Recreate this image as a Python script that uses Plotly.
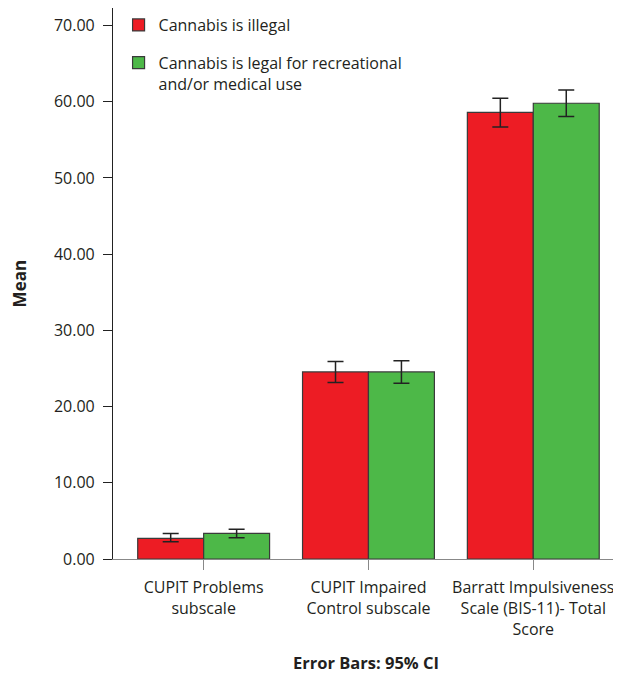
import plotly.graph_objects as go

categories = ["CUPIT Problems<br>subscale",
              "CUPIT Impaired<br>Control subscale",
              "Barratt Impulsiveness<br>Scale (BIS-11)- Total<br>Score"]
series_names = ["Cannabis is illegal",
                "Cannabis is legal for recreational<br>and/or medical use"]
illegal_mean = [2.7, 24.55, 58.6]
illegal_ci_plus = [0.65, 1.35, 1.85]
illegal_ci_minus = [0.45, 1.4, 1.9]
legal_mean = [3.35, 24.55, 59.8]
legal_ci_plus = [0.55, 1.45, 1.75]
legal_ci_minus = [0.55, 1.5, 1.75]
y_ticks = [0, 10, 20, 30, 40, 50, 60, 70]

font_family = "Open Sans, Noto Sans, Arial"
text_color = "#231F20"

fig = go.Figure()
fig.add_trace(go.Bar(
    x=categories, y=illegal_mean, name=series_names[0], legendgroup="illegal",
    marker=dict(color="#ED1C24", line=dict(color="#3a3a3a", width=1.2)),
    error_y=dict(type="data", symmetric=False, array=illegal_ci_plus,
                 arrayminus=illegal_ci_minus, color="#222222", thickness=1.5, width=8),
))
fig.add_trace(go.Bar(
    x=categories, y=legal_mean, name=series_names[1], legendgroup="legal",
    marker=dict(color="#4DB848", line=dict(color="#3a3a3a", width=1.2)),
    error_y=dict(type="data", symmetric=False, array=legal_ci_plus,
                 arrayminus=legal_ci_minus, color="#222222", thickness=1.5, width=8),
))

# page body has an 8px default margin, so the figure is sized to fit the window
fig.update_layout(
    width=613, height=666,
    margin=dict(l=105, r=2, t=0, b=115),
    plot_bgcolor="white", paper_bgcolor="white",
    font=dict(family=font_family, size=16, color=text_color),
    barmode="group", bargap=0.2, bargroupgap=0,
    showlegend=True,
    legend=dict(x=0.011, y=1.0, xanchor="left", yanchor="top",
                bgcolor="rgba(0,0,0,0)", font=dict(size=16, color=text_color),
                tracegroupgap=14, traceorder="grouped", valign="top"),
    xaxis=dict(
        range=[-0.55, 2.52], showline=True, linecolor="#888888", linewidth=1.2,
        ticks="outside", ticklen=10, tickcolor="#888888", tickwidth=1.2,
        showgrid=False, zeroline=False, automargin=False, ticklabelstandoff=4,
        tickfont=dict(size=16, color=text_color),
    ),
    yaxis=dict(
        range=[0, 72.3], showline=True, linecolor="#222222", linewidth=1.2,
        ticks="outside", ticklen=9, tickcolor="#222222", tickwidth=1.2,
        tickvals=y_ticks, tickformat=".2f", showgrid=False, zeroline=False,
        automargin=False, ticklabelstandoff=5,
        tickfont=dict(size=16, color=text_color),
    ),
    annotations=[
        dict(text="<b>Error Bars: 95% CI</b>", xref="paper", yref="paper",
             x=0.5, y=-0.187, xanchor="center", yanchor="middle", showarrow=False,
             font=dict(size=16.5, color=text_color)),
        dict(text="<b>Mean</b>", xref="paper", yref="paper", textangle=-90,
             x=-0.184, y=0.5, xanchor="center", yanchor="middle", showarrow=False,
             font=dict(size=17, color=text_color)),
    ],
)

fig.write_html("out.html")
